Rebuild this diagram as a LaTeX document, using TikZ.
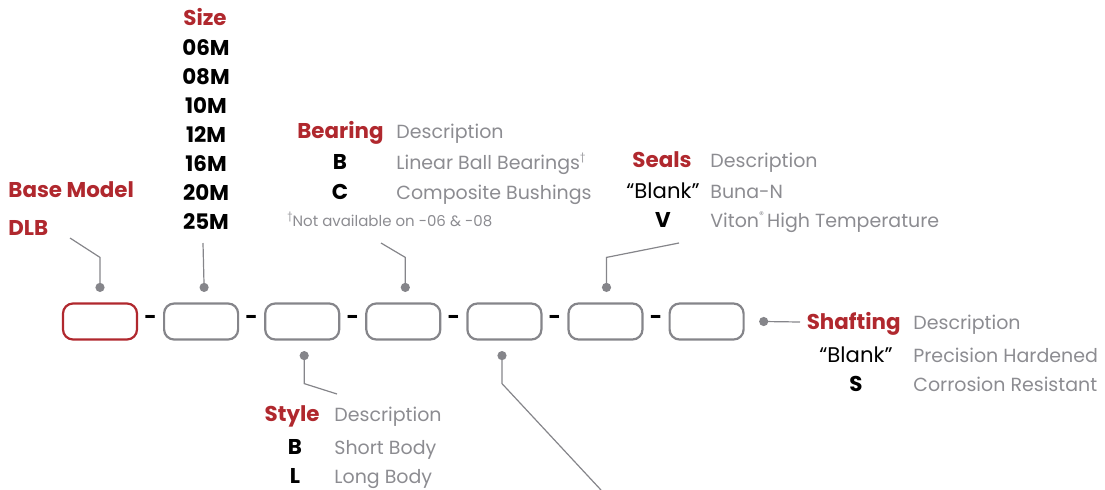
\documentclass[tikz,border=0pt]{standalone}
\usepackage{fontspec}
\setmainfont{Poppins}
\usetikzlibrary{positioning}
\definecolor{brandred}{HTML}{B0282E}
\definecolor{descgray}{HTML}{8C8C91}
\definecolor{linegray}{HTML}{85858A}
\newcommand{\lblsize}{\fontsize{9.5}{11}\selectfont}
\newcommand{\boldsize}{\fontsize{10.7}{12}\selectfont}
\newcommand{\tinymark}[1]{\raisebox{0.45em}{\fontsize{4.8}{5}\selectfont #1}}

\begin{document}
\begin{tikzpicture}[x=0.5pt, y=-0.5pt,
  slot/.style={draw=linegray, line width=1.1pt, rounded corners=5pt, minimum width=37pt, minimum height=18pt, inner sep=0pt},
  pin/.style={circle, fill=linegray, inner sep=0pt, minimum size=4.6pt},
  lead/.style={draw=linegray, line width=0.6pt},
  head/.style={font=\boldsize\bfseries, text=brandred, anchor=base east, inner sep=0pt},
  desc/.style={font=\lblsize, text=descgray, anchor=base west, inner sep=0pt},
  code/.style={font=\boldsize\bfseries, anchor=base, inner sep=0pt},
  blank/.style={font=\fontsize{10.6}{12}\selectfont, anchor=base, inner sep=0pt},
  sep/.style={font=\boldsize\bfseries, inner sep=0pt}]
\useasboundingbox (0,0) rectangle (1105,489);
% Part number slots
\node[slot, draw=brandred] (b1) at (100,321.5) {};
\node[slot, right=12.45pt of b1] (b2) {};
\node[slot, right=12.45pt of b2] (b3) {};
\node[slot, right=12.45pt of b3] (b4) {};
\node[slot, right=12.45pt of b4] (b5) {};
\node[slot, right=12.45pt of b5] (b6) {};
\node[slot, right=12.45pt of b6] (b7) {};
\foreach \a/\b in {b1/b2, b2/b3, b3/b4, b4/b5, b5/b6, b6/b7}
  \path (\a) -- node[sep, yshift=0.6pt] (s\a) {-} (\b);
% Pins above and below
\node[pin, above=5pt of b1] (p1) {};
\node[pin, above=5pt of b2, xshift=1.5pt] (p2) {};
\node[pin, above=5pt of b4, xshift=1pt] (p4) {};
\node[pin, above=5pt of b6, xshift=0.5pt] (p6) {};
\node[pin, below=5pt of b3, xshift=1pt] (p3) {};
\node[pin, below=5pt of b5, xshift=-1.2pt] (p5) {};
\node[pin, right=7pt of b7] (p7) {};
% Leader ends
\coordinate (tBase) at (70,238);
\coordinate (tSize) at (203,243);
\coordinate (tBear) at (381,243);
\coordinate (tSeal) at (679,243);
\coordinate (tStyle) at (337,394);
\coordinate (tOpen) at (601,490);
\coordinate (tShaft) at (800,322);
\draw[lead] (p1.center) -- ++(0,-30) -- (tBase);
\draw[lead] (p2.center) -- (tSize);
\draw[lead] (p4.center) -- ++(0,-30) -- (tBear);
\draw[lead] (p6.center) -- ++(0,-30) -- (tSeal);
\draw[lead] (p3.center) -- ++(0,28) -- (tStyle);
\draw[lead] (p5.center) -- ++(0,28) -- (tOpen);
\draw[lead] (p7.center) -- (tShaft);
% Base model
\node[head, anchor=base west] (base) at (8,197) {Base Model};
\node[head, anchor=base west] (dlb) at (8,235) {DLB};
% Size
\node[head, anchor=base] (size) at (205,25) {Size};
\foreach \s [count=\i from 0] in {06M,08M,10M,12M,16M,20M,25M}
  \node[code] (sz\i) at (206,55+29*\i) {\s};
% Bearing
\node[head] (bear) at (384,138) {Bearing};
\node[desc] (bearD) at (396,138) {Description};
\node[code] (bearB) at (340,169) {B};
\node[desc] (bearBt) at (396,169) {Linear Ball Bearings\tinymark{†}};
\node[code] (bearC) at (340,199) {C};
\node[desc] (bearCt) at (396,199) {Composite Bushings};
\node[desc, font=\fontsize{7.5}{9}\selectfont] (bearN) at (287,226) {\tinymark{†}Not available on -06 \& -08};
% Seals
\node[head] (seal) at (692,167) {Seals};
\node[desc] (sealD) at (710,167) {Description};
\node[blank] (sealB) at (663,198) {“Blank”};
\node[desc] (sealBt) at (710,198) {Buna-N};
\node[code] (sealV) at (663,227) {V};
\node[desc] (sealVt) at (710,227) {Viton\tinymark{®}\,High Temperature};
% Style
\node[head] (style) at (320,421) {Style};
\node[desc] (styleD) at (334,421) {Description};
\node[code] (styleB) at (295,454) {B};
\node[desc] (styleBt) at (334,454) {Short Body};
\node[code] (styleL) at (295,483) {L};
\node[desc] (styleLt) at (334,483) {Long Body};
% Shafting
\node[head] (shaft) at (901,329) {Shafting};
\node[desc] (shaftD) at (913,329) {Description};
\node[blank] (shaftB) at (856,362) {“Blank”};
\node[desc] (shaftBt) at (913,362) {Precision Hardened};
\node[code] (shaftS) at (856,391) {S};
\node[desc] (shaftSt) at (913,391) {Corrosion Resistant};
\end{tikzpicture}
\end{document}
